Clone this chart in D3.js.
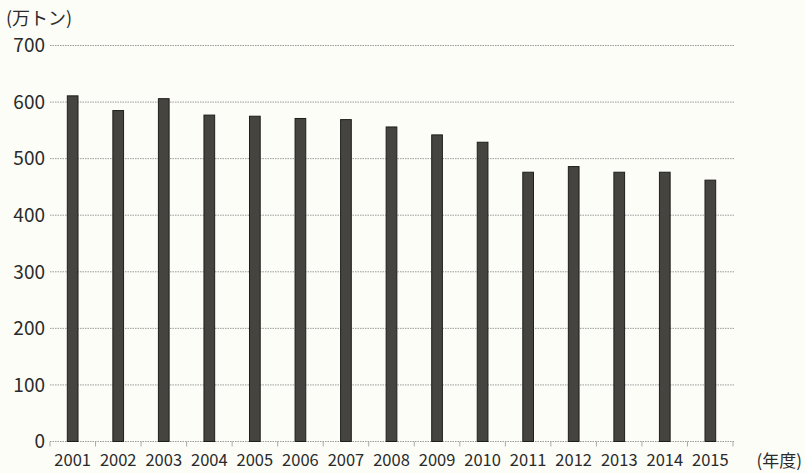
<!DOCTYPE html>
<html><head><meta charset="utf-8">
<script src="https://cdn.jsdelivr.net/npm/d3@7"></script>
<style>body{margin:0;background:#fdfdf8;}svg{display:block;font-family:"Noto Sans CJK JP","Noto Sans",sans-serif;}</style>
</head><body>
<script>
const years = ["2001","2002","2003","2004","2005","2006","2007","2008","2009","2010","2011","2012","2013","2014","2015"];
const values = [611,585,606,577,575,571,569,556,542,529,476,486,476,476,462];
const yTicks = [0,100,200,300,400,500,600,700];
const yUnit = "(万トン)";
const xUnit = "(年度)";

const W=805,H=473;
const svg=d3.select("body").append("svg").attr("width",W).attr("height",H);
const x=d3.scaleBand().domain(years).range([50,733]).paddingInner(0.765).paddingOuter(0.38);
const y=d3.scaleLinear().domain([0,700]).range([441.5,45.5]);

// gridlines
svg.append("g").selectAll("line").data(yTicks).join("line")
  .attr("x1",50).attr("x2",735).attr("y1",d=>y(d)).attr("y2",d=>y(d))
  .attr("stroke","#9a9a9a").attr("stroke-width",1).attr("stroke-dasharray","1.5,1");

// y labels
svg.append("g").selectAll("text").data(yTicks).join("text")
  .attr("x",45).attr("y",d=>y(d)).attr("dy","0.36em").attr("text-anchor","end")
  .attr("font-size",19).attr("fill","#2a2a2a").text(d=>d);

// bars
svg.append("g").selectAll("rect").data(values).join("rect")
  .attr("x",(d,i)=>x(years[i])).attr("width",x.bandwidth())
  .attr("y",d=>y(d)).attr("height",d=>y(0)-y(d))
  .attr("fill","#46443f").attr("stroke","#1e1e1c").attr("stroke-width",1);

// x axis ticks at band boundaries
const bounds=d3.range(years.length+1).map(i=>x.range()[0]+ i*(x.range()[1]-x.range()[0])/years.length);
svg.append("g").selectAll("line").data(bounds).join("line")
  .attr("x1",d=>d).attr("x2",d=>d).attr("y1",y(0)).attr("y2",y(0)+5)
  .attr("stroke","#aaa").attr("stroke-width",1);

// x labels
svg.append("g").selectAll("text").data(years).join("text")
  .attr("x",d=>x(d)+x.bandwidth()/2).attr("y",466).attr("text-anchor","middle")
  .attr("font-size",16.5).attr("fill","#2a2a2a").text(d=>d);

svg.append("text").attr("x",6).attr("y",25).attr("font-size",18).attr("fill","#2a2a2a").text(yUnit);
svg.append("text").attr("x",802).attr("y",467).attr("text-anchor","end").attr("font-size",17).attr("fill","#2a2a2a").text(xUnit);
</script>
</body></html>
